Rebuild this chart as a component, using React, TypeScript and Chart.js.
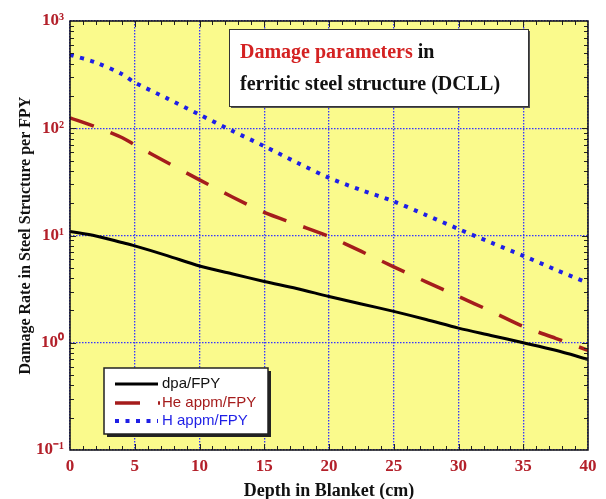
import React, { useEffect, useRef } from "react";
import { Chart, registerables } from "chart.js";

Chart.register(...registerables);

// ---- data ----
const depthCm = [0, 2, 4, 5, 7.5, 10, 12.5, 15, 17.5, 20, 22.5, 25, 27.5, 30, 32.5, 35, 37.5, 40];
const dpaPerFPY = [10.9, 9.9, 8.6, 8.0, 6.5, 5.2, 4.4, 3.73, 3.2, 2.7, 2.3, 1.96, 1.65, 1.37, 1.17, 1.0, 0.85, 0.7];
const heAppmPerFPY = [125, 103, 82, 70, 48, 33, 23, 16.4, 12.7, 9.8, 7.1, 5.1, 3.7, 2.7, 1.97, 1.42, 1.1, 0.85];
const hAppmPerFPY = [484, 410, 320, 267, 190, 134, 95, 68, 48, 34.5, 26.5, 20.8, 15.5, 11.5, 8.6, 6.47, 4.8, 3.6];

const seriesLabels = ["dpa/FPY", "He appm/FPY", "H appm/FPY"];
const xTickValues = [0, 5, 10, 15, 20, 25, 30, 35, 40];
const yDecadeValues = [0.1, 1, 10, 100, 1000];
const yDecadeLabels = ["10\u207B\u00B9", "10\u2070", "10\u00B9", "10\u00B2", "10\u00B3"];
const xTitle = "Depth in Blanket (cm)";
const yTitle = "Damage Rate in Steel Structure per FPY";
const boxTitleRed = "Damage parameters";
const boxTitleBlack = " in";
const boxTitleLine2 = "ferritic steel structure (DCLL)";

// ---- styles ----
const RED_LABEL = "#b3202a";
const C_DPA = "#000000";
const C_HE = "#a51c1c";
const C_H = "#1f1fe6";
const DASH_HE = [25, 18];
const DASH_H = [4, 6.5];
const GRID_BLUE = "#3535ff";

const decorPlugin = {
  id: "decor",
  beforeDraw(chart: any) {
    const { ctx, chartArea: a } = chart;
    ctx.save();
    ctx.fillStyle = "#fafa8c";
    ctx.fillRect(a.left, a.top, a.right - a.left, a.bottom - a.top);
    ctx.restore();
  },
  afterDatasetsDraw(chart: any) {
    const { ctx, chartArea: a } = chart;
    const xs = chart.scales.x;
    const ys = chart.scales.y;
    ctx.save();
    // inward tick marks
    ctx.strokeStyle = "#222";
    ctx.lineWidth = 1;
    ctx.beginPath();
    for (let v = 1; v < 40; v++) {
      const px = Math.round(xs.getPixelForValue(v)) + 0.5;
      const len = v % 5 === 0 ? 6 : 4;
      ctx.moveTo(px, a.bottom);
      ctx.lineTo(px, a.bottom - len);
      ctx.moveTo(px, a.top);
      ctx.lineTo(px, a.top + len);
    }
    for (let d = 0; d < yDecadeValues.length; d++) {
      const base = yDecadeValues[d];
      for (let m = 1; m <= 9; m++) {
        const v = base * m;
        if (v >= 1000 || (m === 1 && d === 0)) continue;
        const py = Math.round(ys.getPixelForValue(v)) + 0.5;
        const len = m === 1 ? 6 : 4;
        ctx.moveTo(a.left, py);
        ctx.lineTo(a.left + len, py);
        ctx.moveTo(a.right, py);
        ctx.lineTo(a.right - len, py);
      }
    }
    ctx.stroke();
    // frame
    ctx.strokeStyle = "#111";
    ctx.lineWidth = 1.5;
    ctx.strokeRect(a.left, a.top, a.right - a.left, a.bottom - a.top);

    // title box
    const bx = 229, by = 29, bw = 299, bh = 77;
    ctx.fillStyle = "#555";
    ctx.fillRect(bx + 2, by + 2, bw, bh);
    ctx.fillStyle = "#ffffff";
    ctx.fillRect(bx, by, bw, bh);
    ctx.strokeStyle = "#333";
    ctx.lineWidth = 1;
    ctx.strokeRect(bx + 0.5, by + 0.5, bw, bh);
    ctx.font = "bold 20px 'Liberation Serif', 'Times New Roman', serif";
    ctx.textBaseline = "alphabetic";
    ctx.textAlign = "left";
    ctx.fillStyle = "#d42222";
    ctx.fillText(boxTitleRed, 240, 58);
    const w = ctx.measureText(boxTitleRed).width;
    ctx.fillStyle = "#111";
    ctx.fillText(boxTitleBlack, 240 + w, 58);
    ctx.fillText(boxTitleLine2, 240, 90);

    // legend box
    const lx = 104, ly = 368, lw = 164, lh = 66;
    ctx.fillStyle = "#222";
    ctx.fillRect(lx + 3, ly + 3, lw, lh);
    ctx.fillStyle = "#ffffff";
    ctx.fillRect(lx, ly, lw, lh);
    ctx.strokeStyle = "#222";
    ctx.lineWidth = 1.5;
    ctx.strokeRect(lx, ly, lw, lh);
    const rows = [
      { y: 384, color: C_DPA, dash: [] as number[], width: 3, textColor: "#111" },
      { y: 403, color: C_HE, dash: DASH_HE, width: 3.5, textColor: C_HE },
      { y: 421, color: C_H, dash: DASH_H, width: 4, textColor: C_H },
    ];
    ctx.font = "15px 'Liberation Sans', Arial, sans-serif";
    ctx.textBaseline = "middle";
    rows.forEach((r, i) => {
      ctx.beginPath();
      ctx.setLineDash(r.dash);
      ctx.strokeStyle = r.color;
      ctx.lineWidth = r.width;
      ctx.moveTo(115, r.y);
      ctx.lineTo(i === 1 ? 160 : 158, r.y);
      ctx.stroke();
      ctx.setLineDash([]);
      ctx.fillStyle = r.textColor;
      ctx.fillText(seriesLabels[i], 162, r.y);
    });
    ctx.restore();
  },
};

export default function App() {
  const ref = useRef<HTMLCanvasElement | null>(null);
  useEffect(() => {
    document.body.style.margin = "0";
    const canvas = ref.current;
    if (!canvas) return;
    const mk = (vals: number[]) => depthCm.map((x, i) => ({ x, y: vals[i] }));
    const chart = new Chart(canvas, {
      type: "line",
      data: {
        datasets: [
          {
            label: seriesLabels[0],
            data: mk(dpaPerFPY),
            borderColor: C_DPA,
            borderWidth: 3,
            pointRadius: 0,
            tension: 0.3,
          },
          {
            label: seriesLabels[1],
            data: mk(heAppmPerFPY),
            borderColor: C_HE,
            borderWidth: 3.5,
            borderDash: DASH_HE,
            pointRadius: 0,
            tension: 0.3,
          },
          {
            label: seriesLabels[2],
            data: mk(hAppmPerFPY),
            borderColor: C_H,
            borderWidth: 4,
            borderDash: DASH_H,
            pointRadius: 0,
            tension: 0.3,
          },
        ],
      },
      options: {
        responsive: false,
        animation: false,
        layout: { padding: { top: 21, right: 18, left: 0, bottom: 0 } },
        plugins: { legend: { display: false }, tooltip: { enabled: false } },
        scales: {
          x: {
            type: "linear",
            min: 0,
            max: 40,
            afterFit: (s: any) => {
              s.height = 49;
            },
            afterBuildTicks: (s: any) => {
              s.ticks = xTickValues.map((v) => ({ value: v }));
            },
            ticks: {
              color: RED_LABEL,
              font: { family: "'Liberation Serif', serif", size: 17, weight: "bold" },
              padding: 6,
              maxRotation: 0,
              callback: (v: any) => String(v),
            },
            grid: { color: GRID_BLUE, lineWidth: 1.3, drawTicks: false },
            border: { display: false, dash: [1.5, 1.5] },
            title: {
              display: true,
              text: xTitle,
              color: "#111",
              font: { family: "'Liberation Serif', serif", size: 18, weight: "bold" },
              padding: { top: -3, bottom: -3 },
            },
          },
          y: {
            type: "logarithmic",
            min: 0.1,
            max: 1000,
            afterFit: (s: any) => {
              s.width = 70;
            },
            afterBuildTicks: (s: any) => {
              s.ticks = yDecadeValues.map((v) => ({ value: v }));
            },
            ticks: {
              color: RED_LABEL,
              font: { family: "'Liberation Serif', serif", size: 17, weight: "bold" },
              padding: 6,
              callback: (v: any) => {
                const i = yDecadeValues.findIndex((d) => Math.abs(d - v) < 1e-9 * Math.max(1, d));
                return i >= 0 ? yDecadeLabels[i] : "";
              },
            },
            grid: { color: GRID_BLUE, lineWidth: 1.3, drawTicks: false },
            border: { display: false, dash: [1.5, 1.5] },
            title: {
              display: true,
              text: yTitle,
              color: "#111",
              font: { family: "'Liberation Serif', serif", size: 16, weight: "bold" },
              padding: { top: 16, bottom: 16 },
            },
          },
        },
      },
      plugins: [decorPlugin],
    } as any);
    return () => chart.destroy();
  }, []);
  return (
    <div style={{ position: "absolute", left: 0, top: 0, width: 606, height: 499, background: "#fff" }}>
      <canvas ref={ref} width={606} height={499} style={{ width: 606, height: 499 }} />
    </div>
  );
}
